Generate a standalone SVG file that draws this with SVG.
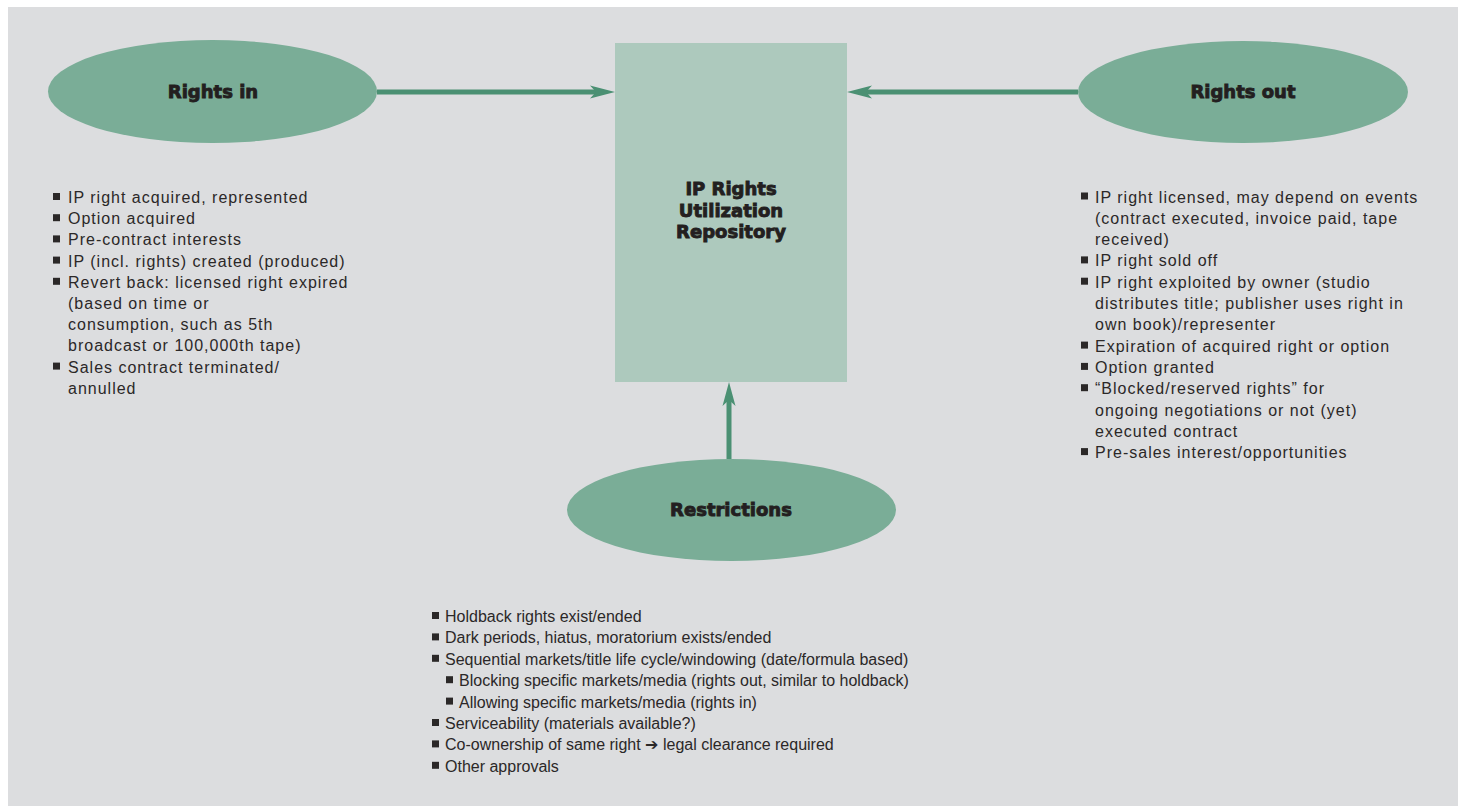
<svg xmlns="http://www.w3.org/2000/svg" width="1458" height="806" viewBox="0 0 1458 806">
<style>
.ell{fill:#7aad97}
.box{fill:#adc9bd}
.title{font-family:"DejaVu Sans","Liberation Sans",sans-serif;font-weight:bold;font-size:18px;fill:#231f20;stroke:#231f20;stroke-width:0.9;text-anchor:middle}
.body{font-family:"Liberation Sans","DejaVu Sans",sans-serif;font-size:16px;fill:#2b2828}
.wide{letter-spacing:1px}
.bul{fill:#2b2828}
.line{stroke:#4b9073;stroke-width:5;fill:none}
.head{fill:#4b9073}
</style>
<rect x="0" y="0" width="1458" height="806" fill="#ffffff"/>
<rect x="8" y="7" width="1450" height="799" fill="#dcdddf"/>

<g id="connectors">
  <line class="line" x1="377" y1="92" x2="598" y2="92"/>
  <polygon class="head" points="615,92 590,85.5 596,92 590,98.5"/>
  <line class="line" x1="1078" y1="92" x2="864" y2="92"/>
  <polygon class="head" points="847,92 872,85.5 866,92 872,98.5"/>
  <line class="line" x1="729" y1="459" x2="729" y2="400"/>
  <polygon class="head" points="729,382 722.5,406 729,400 735.5,406"/>
</g>

<g id="repository">
  <rect class="box" x="615" y="43" width="232" height="339"/>
  <text class="title" x="731" y="195">IP Rights</text>
  <text class="title" x="731" y="217">Utilization</text>
  <text class="title" x="731" y="238">Repository</text>
</g>

<g id="rights-in">
  <ellipse class="ell" cx="212.5" cy="91.5" rx="164.5" ry="51.5"/>
  <text class="title" x="213" y="98">Rights in</text>
</g>

<g id="rights-out">
  <ellipse class="ell" cx="1243" cy="92" rx="165" ry="51"/>
  <text class="title" x="1243" y="98">Rights out</text>
</g>

<g id="restrictions">
  <ellipse class="ell" cx="731.5" cy="510" rx="164.5" ry="51"/>
  <text class="title" x="731" y="516">Restrictions</text>
</g>

<g id="rights-in-list" class="wide">
  <rect class="bul" x="53" y="193" width="7" height="7"/>
  <text class="body" x="68" y="203">IP right acquired, represented</text>
  <rect class="bul" x="53" y="214.2" width="7" height="7"/>
  <text class="body" x="68" y="224.2">Option acquired</text>
  <rect class="bul" x="53" y="235.4" width="7" height="7"/>
  <text class="body" x="68" y="245.4">Pre-contract interests</text>
  <rect class="bul" x="53" y="256.6" width="7" height="7"/>
  <text class="body" x="68" y="266.6">IP (incl. rights) created (produced)</text>
  <rect class="bul" x="53" y="277.8" width="7" height="7"/>
  <text class="body" x="68" y="287.8">Revert back: licensed right expired</text>
  <text class="body" x="68" y="309">(based on time or</text>
  <text class="body" x="68" y="330.2">consumption, such as 5th</text>
  <text class="body" x="68" y="351.4">broadcast or 100,000th tape)</text>
  <rect class="bul" x="53" y="362.6" width="7" height="7"/>
  <text class="body" x="68" y="372.6">Sales contract terminated/</text>
  <text class="body" x="68" y="393.8">annulled</text>
</g>

<g id="rights-out-list" class="wide">
  <rect class="bul" x="1081" y="192.5" width="7" height="7"/>
  <text class="body" x="1095" y="202.5">IP right licensed, may depend on events</text>
  <text class="body" x="1095" y="223.8">(contract executed, invoice paid, tape</text>
  <text class="body" x="1095" y="245.1">received)</text>
  <rect class="bul" x="1081" y="256.4" width="7" height="7"/>
  <text class="body" x="1095" y="266.4">IP right sold off</text>
  <rect class="bul" x="1081" y="277.7" width="7" height="7"/>
  <text class="body" x="1095" y="287.7">IP right exploited by owner (studio</text>
  <text class="body" x="1095" y="309">distributes title; publisher uses right in</text>
  <text class="body" x="1095" y="330.3">own book)/representer</text>
  <rect class="bul" x="1081" y="341.6" width="7" height="7"/>
  <text class="body" x="1095" y="351.6">Expiration of acquired right or option</text>
  <rect class="bul" x="1081" y="362.9" width="7" height="7"/>
  <text class="body" x="1095" y="372.9">Option granted</text>
  <rect class="bul" x="1081" y="384.2" width="7" height="7"/>
  <text class="body" x="1095" y="394.2">“Blocked/reserved rights” for</text>
  <text class="body" x="1095" y="415.5">ongoing negotiations or not (yet)</text>
  <text class="body" x="1095" y="436.8">executed contract</text>
  <rect class="bul" x="1081" y="448.1" width="7" height="7"/>
  <text class="body" x="1095" y="458.1">Pre-sales interest/opportunities</text>
</g>

<g id="restrictions-list">
  <rect class="bul" x="432" y="612" width="7" height="7"/>
  <text class="body" x="445" y="622">Holdback rights exist/ended</text>
  <rect class="bul" x="432" y="633.4" width="7" height="7"/>
  <text class="body" x="445" y="643.4">Dark periods, hiatus, moratorium exists/ended</text>
  <rect class="bul" x="432" y="654.8" width="7" height="7"/>
  <text class="body" x="445" y="664.8">Sequential markets/title life cycle/windowing (date/formula based)</text>
  <rect class="bul" x="446" y="676.2" width="7" height="7"/>
  <text class="body" x="459" y="686.2">Blocking specific markets/media (rights out, similar to holdback)</text>
  <rect class="bul" x="446" y="697.6" width="7" height="7"/>
  <text class="body" x="459" y="707.6">Allowing specific markets/media (rights in)</text>
  <rect class="bul" x="432" y="719" width="7" height="7"/>
  <text class="body" x="445" y="729">Serviceability (materials available?)</text>
  <rect class="bul" x="432" y="740.4" width="7" height="7"/>
  <text class="body" x="445" y="750.4">Co-ownership of same right <tspan font-family="DejaVu Sans" font-size="16">➔</tspan> legal clearance required</text>
  <rect class="bul" x="432" y="761.8" width="7" height="7"/>
  <text class="body" x="445" y="771.8">Other approvals</text>
</g>
</svg>
